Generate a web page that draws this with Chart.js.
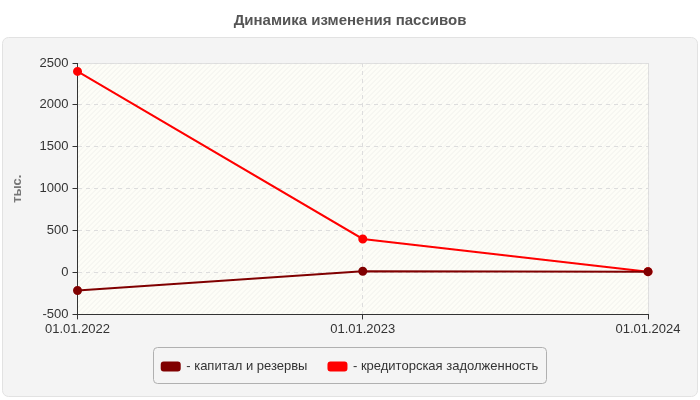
<!DOCTYPE html>
<html>
<head>
<meta charset="utf-8">
<script src="https://cdn.jsdelivr.net/npm/chart.js@4"></script>
<style>
	html, body { margin: 0; padding: 0; background: #fff; }
	#wrap { width: 700px; height: 400px; }
</style>
</head>
<body>
<div id="wrap"><canvas id="passive-chart"></canvas></div>
<script>
var dates = ["01.01.2022", "01.01.2023", "01.01.2024"];
var capital = [-215, 15, 10];
var creditors = [2400, 400, 10];
var yTicks = [-500, 0, 500, 1000, 1500, 2000, 2500];

// gray panel behind the plot and the hatched plot background
var panelPlugin = {
	id: 'panel',
	beforeDraw: function(chart) {
		var ctx = chart.ctx;
		var a = chart.chartArea;
		ctx.save();
		ctx.fillStyle = '#f4f4f4';
		ctx.strokeStyle = '#e2e2e2';
		ctx.lineWidth = 1;
		ctx.beginPath();
		ctx.roundRect(2.5, 37.5, 695, 359, 6);
		ctx.fill();
		ctx.stroke();

		ctx.fillStyle = '#fdfdf7';
		ctx.fillRect(a.left, a.top, a.right - a.left, a.bottom - a.top);
		ctx.beginPath();
		ctx.rect(a.left, a.top, a.right - a.left, a.bottom - a.top);
		ctx.clip();
		ctx.strokeStyle = '#f0f0ec';
		ctx.beginPath();
		for (var x = a.left - (a.bottom - a.top); x < a.right; x += 5) {
			ctx.moveTo(x, a.bottom);
			ctx.lineTo(x + (a.bottom - a.top), a.top);
		}
		ctx.stroke();
		ctx.restore();

		// light frame on top and right of the plot
		ctx.save();
		ctx.strokeStyle = '#e0e0e0';
		ctx.beginPath();
		ctx.moveTo(a.left, a.top + 0.5);
		ctx.lineTo(a.right + 0.5, a.top + 0.5);
		ctx.lineTo(a.right + 0.5, a.bottom);
		ctx.stroke();
		ctx.restore();
	},
	afterDraw: function(chart) {
		var ctx = chart.ctx;
		ctx.save();
		ctx.strokeStyle = '#b0b0b0';
		ctx.lineWidth = 1;
		ctx.beginPath();
		ctx.roundRect(153.5, 347.5, 393, 36, 4);
		ctx.stroke();
		ctx.restore();
	}
};

var ctx = document.getElementById("passive-chart").getContext('2d');
var passiveChart = new Chart(ctx, {
	type: 'line',
	data: {
		labels: dates,
		datasets: [{
			label: '- капитал и резервы',
			data: capital,
			borderColor: '#800000',
			backgroundColor: '#800000',
			borderWidth: 2,
			pointRadius: 3.5,
			pointHoverRadius: 3.5,
			tension: 0
		}, {
			label: '- кредиторская задолженность',
			data: creditors,
			borderColor: '#ff0000',
			backgroundColor: '#ff0000',
			borderWidth: 2,
			pointRadius: 3.5,
			pointHoverRadius: 3.5,
			tension: 0
		}]
	},
	options: {
		responsive: true,
		maintainAspectRatio: false,
		animation: false,
		layout: {
			padding: { left: 0, right: 0, top: 0, bottom: 17 }
		},
		scales: {
			x: {
				offset: false,
				// keep the plot's right edge off the canvas edge without shifting the title
				afterFit: function(scale) { scale.paddingRight = 52; },
				grid: {
					color: '#dddddd',
					tickColor: '#333333',
					tickLength: 5
				},
				border: { color: '#333333', dash: [4, 4] },
				ticks: {
					color: '#333333',
					font: { family: 'Liberation Sans, Arial', size: 13 },
					maxRotation: 0,
					padding: 2
				}
			},
			y: {
				min: -500,
				max: 2500,
				afterBuildTicks: function(axis) {
					axis.ticks = yTicks.map(function(v) { return { value: v }; });
				},
				grid: {
					color: '#dddddd',
					tickColor: '#333333',
					tickLength: 5
				},
				border: { color: '#333333', dash: [4, 4] },
				ticks: {
					color: '#333333',
					font: { family: 'Liberation Sans, Arial', size: 13 },
					padding: 4,
					callback: function(v) { return String(v); }
				},
				title: {
					display: true,
					text: 'тыс.',
					color: '#777777',
					font: { family: 'Liberation Sans, Arial', size: 13, weight: 'bold' },
					padding: { top: 10, bottom: 10 }
				}
			}
		},
		plugins: {
			title: {
				display: true,
				text: 'Динамика изменения пассивов',
				color: '#555555',
				font: { family: 'Liberation Sans, Arial', size: 15, weight: 'bold' },
				padding: { top: 12, bottom: 33 }
			},
			legend: {
				position: 'bottom',
				labels: {
					color: '#333333',
					font: { family: 'Liberation Sans, Arial', size: 13 },
					boxWidth: 18,
					boxHeight: 8,
					padding: 21,
					useBorderRadius: true,
					borderRadius: 2
				}
			},
			tooltip: { enabled: false }
		}
	},
	plugins: [panelPlugin]
});
</script>
</body>
</html>
